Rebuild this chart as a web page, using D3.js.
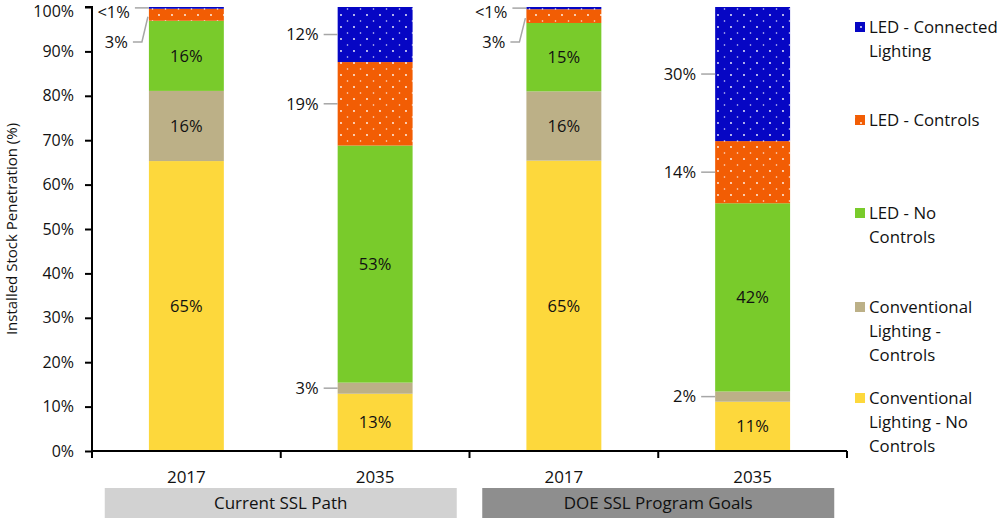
<!DOCTYPE html>
<html><head><meta charset="utf-8">
<script src="https://cdn.jsdelivr.net/npm/d3@7"></script>
<style>body{margin:0;background:#fff}svg{display:block}text{font-family:"Open Sans",sans-serif}</style>
</head><body><svg id="c" width="1000" height="520"></svg>
<script>
// ---- data ----
const barKeys = ["c2017","c2035","g2017","g2035"];
const barLabels = ["2017","2035","2017","2035"];
const groups = ["Current SSL Path","DOE SSL Program Goals"];
const seriesNames = ["Conventional Lighting - No Controls","Conventional Lighting - Controls","LED - No Controls","LED - Controls","LED - Connected Lighting"];
const convNoControls = [65.3, 12.9, 65.4, 11.1];
const convControls   = [15.8, 2.5, 15.6, 2.3];
const ledNoControls  = [15.8, 53.4, 15.4, 42.4];
const ledControls    = [2.7, 18.8, 3.1, 14.0];
const ledConnected   = [0.4, 12.4, 0.5, 30.2];
const yTicks = [0,10,20,30,40,50,60,70,80,90,100];
const legendLines = [["LED - Connected","Lighting"],["LED - Controls"],["LED - No","Controls"],["Conventional","Lighting -","Controls"],["Conventional","Lighting - No","Controls"]];

// ---- style ----
const colors = ["#fdd83c","#bcb087","#79cb2b","#f25d04","#0606c4"];
const patterned = [false,false,false,true,true];
const FS = 16.5;

const svg = d3.select("#c");
const defs = svg.append("defs");
colors.forEach((c,i)=>{
  if(!patterned[i]) return;
  const p = defs.append("pattern").attr("id","pat"+i).attr("patternUnits","userSpaceOnUse")
    .attr("width",13).attr("height",12);
  p.append("rect").attr("width",13).attr("height",12).attr("fill",c);
  p.append("circle").attr("cx",3).attr("cy",3).attr("r",0.9).attr("fill","#fff");
  p.append("circle").attr("cx",9.5).attr("cy",9).attr("r",0.8).attr("fill","#fff").attr("opacity",0.85);
});
const fillOf = i => patterned[i] ? "url(#pat"+i+")" : colors[i];

const x0 = 92, x1 = 847, yTop = 7, yBot = 451;
const y = d3.scaleLinear().domain([0,100]).range([yBot,yTop]);
const x = d3.scaleBand().domain(barKeys).range([x0,x1]).paddingInner(0.603).paddingOuter(0.3015);

const table = barKeys.map((k,i)=>({key:k, s0:convNoControls[i], s1:convControls[i], s2:ledNoControls[i], s3:ledControls[i], s4:ledConnected[i]}));
const stack = d3.stack().keys(["s0","s1","s2","s3","s4"])(table);

// bars
stack.forEach((layer,si)=>{
  svg.append("g").selectAll("rect").data(layer).join("rect")
    .attr("x",d=>x(d.data.key)).attr("width",x.bandwidth())
    .attr("y",d=>y(d[1])).attr("height",d=>y(d[0])-y(d[1]))
    .attr("fill",fillOf(si));
});

// labels
const fmt = v => v < 1 ? "<1%" : Math.round(v)+"%";
barKeys.forEach((k,bi)=>{
  const bl = x(k), cx = bl + x.bandwidth()/2;
  let prevY = -1e9;
  for(let si=4; si>=0; si--){
    const d = stack[si][bi];
    const v = d[1]-d[0];
    const mid = (y(d[0])+y(d[1]))/2;
    const outside = patterned[si] || v < 5;
    if(!outside){
      svg.append("text").attr("x",cx).attr("y",mid).attr("dy","0.35em")
        .attr("text-anchor","middle").attr("font-size",FS).attr("fill","#111").text(fmt(v));
    } else {
      let ly = mid;
      let pushed = false;
      if(ly < prevY + 26){ ly = prevY + 30; pushed = true; }
      if(v < 1) ly = mid + 4;
      prevY = ly;
      if(pushed){
        svg.append("polyline").attr("points",[[bl-16,ly],[bl-7,ly],[bl-1,mid+2]].map(p=>p.join(",")).join(" "))
          .attr("fill","none").attr("stroke","#a6a6a6").attr("stroke-width",1.5);
        svg.append("text").attr("x",bl-21).attr("y",ly).attr("dy","0.35em")
          .attr("text-anchor","end").attr("font-size",FS).attr("fill","#111").text(fmt(v));
      } else {
        svg.append("line").attr("x1",bl-14).attr("x2",bl).attr("y1",mid).attr("y2",mid)
          .attr("stroke","#a6a6a6").attr("stroke-width",1.5);
        svg.append("text").attr("x",bl-19).attr("y",ly).attr("dy","0.35em")
          .attr("text-anchor","end").attr("font-size",FS).attr("fill","#111").text(fmt(v));
      }
    }
  }
});

// y axis
const yAxis = svg.append("g").attr("transform",`translate(${x0},0)`)
  .call(d3.axisLeft(y).tickValues(yTicks).tickFormat(d=>d+"%").tickSize(7).tickPadding(11));
yAxis.select(".domain").attr("stroke","#000").attr("stroke-width",2).attr("d",`M-7,${yTop}H0V${yBot}`);
yAxis.selectAll(".tick line").attr("stroke","#000").attr("stroke-width",2);
yAxis.selectAll(".tick text").attr("font-size",16).attr("fill","#111").attr("dy",d=>d===100?"0.6em":"0.32em").style("font-family","'Open Sans',sans-serif");

// x axis
const step = x.step();
const bounds = d3.range(barKeys.length+1).map(i=>x0 + i*step);
svg.append("line").attr("x1",x0).attr("x2",x1).attr("y1",yBot).attr("y2",yBot).attr("stroke","#000").attr("stroke-width",2);
svg.append("g").selectAll("line").data(bounds).join("line")
  .attr("x1",d=>d).attr("x2",d=>d).attr("y1",yBot).attr("y2",yBot+7).attr("stroke","#000").attr("stroke-width",2);
svg.append("g").selectAll("text").data(barKeys).join("text")
  .attr("x",d=>x(d)+x.bandwidth()/2).attr("y",477).attr("dy","0.35em")
  .attr("text-anchor","middle").attr("font-size",17).attr("fill","#111").text((d,i)=>barLabels[i]);

// group boxes
const groupFill = ["#d2d2d2","#8e8e8e"];
groups.forEach((g,gi)=>{
  const a = x(barKeys[gi*2]) + x.bandwidth()/2, b = x(barKeys[gi*2+1]) + x.bandwidth()/2;
  const c = (a+b)/2;
  svg.append("rect").attr("x",c-176).attr("y",488).attr("width",352).attr("height",30).attr("fill",groupFill[gi]);
  svg.append("text").attr("x",c).attr("y",503).attr("dy","0.35em").attr("text-anchor","middle")
    .attr("font-size",17).attr("fill","#111").text(g);
});

// y title
svg.append("text").attr("transform",`translate(12,${(yTop+yBot)/2}) rotate(-90)`)
  .attr("text-anchor","middle").attr("dy","0.35em").attr("font-size",15).attr("fill","#111")
  .text("Installed Stock Penetration (%)");

// legend
const legendY = [27,120,213,307,398];
const lineH = 24;
[4,3,2,1,0].forEach((si,li)=>{
  const ly = legendY[li];
  svg.append("rect").attr("x",855).attr("y",ly-5).attr("width",10).attr("height",10).attr("fill",fillOf(si));
  const t = svg.append("text").attr("x",869).attr("y",ly).attr("font-size",16.8).attr("fill","#111");
  legendLines[li].forEach((ln,j)=>{
    t.append("tspan").attr("x",869).attr("y",ly + j*lineH).attr("dy","0.35em").text(ln);
  });
});
</script></body></html>
